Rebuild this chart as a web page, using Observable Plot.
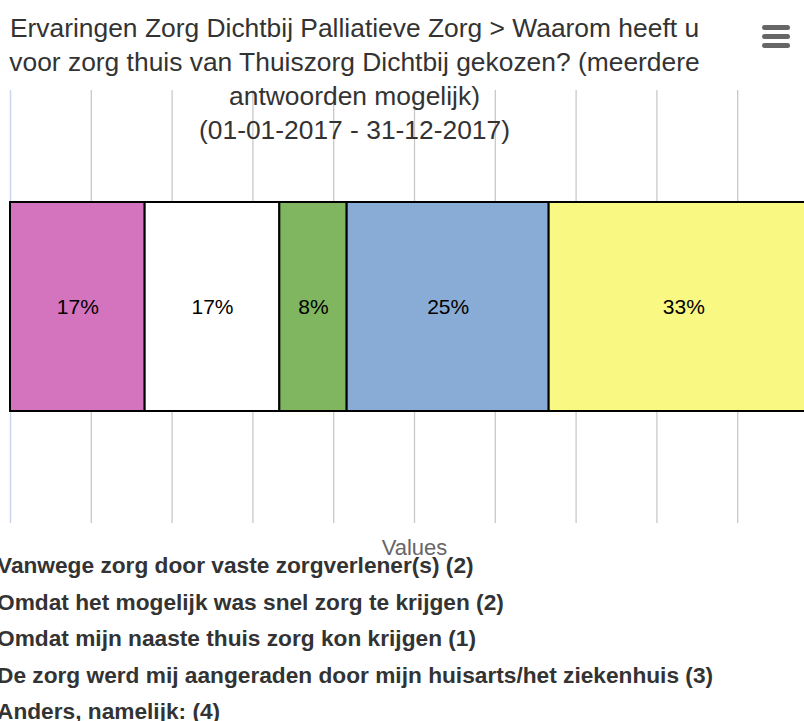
<!DOCTYPE html>
<html><head><meta charset="utf-8">
<script src="https://cdn.jsdelivr.net/npm/d3@7"></script>
<script src="https://cdn.jsdelivr.net/npm/@observablehq/plot@0.6"></script>
<style>
html,body{margin:0;padding:0;overflow:hidden;background:#fff;}
#wrap{position:relative;width:804px;height:721px;overflow:hidden;font-family:"Liberation Sans",Arial,sans-serif;}
#chart{position:absolute;left:0;top:0;}
#title{position:absolute;left:0;top:11px;width:709px;text-align:center;font-size:26.4px;line-height:34px;color:#333;}
#menu{position:absolute;left:762px;top:25px;width:28px;}
#menu div{height:5px;border-radius:3px;background:#666;margin-bottom:4px;}
#legend{position:absolute;left:-3px;top:552px;font-weight:bold;font-size:22.7px;color:#333;}
#legend div{height:36.5px;line-height:26px;white-space:nowrap;}
</style>
</head><body>
<div id="wrap">
  <div id="chart"></div>
  <div id="title"></div>
  <div id="menu"><div></div><div></div><div></div></div>
  <div id="legend"></div>
</div>
<script>
const titleLines = [
  "Ervaringen Zorg Dichtbij Palliatieve Zorg > Waarom heeft u",
  "voor zorg thuis van Thuiszorg Dichtbij gekozen? (meerdere",
  "antwoorden mogelijk)",
  "(01-01-2017 - 31-12-2017)"
];
const reasons = [
  "Vanwege zorg door vaste zorgverlener(s)",
  "Omdat het mogelijk was snel zorg te krijgen",
  "Omdat mijn naaste thuis zorg kon krijgen",
  "De zorg werd mij aangeraden door mijn huisarts/het ziekenhuis",
  "Anders, namelijk:"
];
const counts = [2, 2, 1, 3, 4];
const pctLabels = ["17%", "17%", "8%", "25%", "33%"];
const colors = ["#d473be", "#ffffff", "#7fb65f", "#89acd6", "#f8f882"];
const xTicks = [0, 10, 20, 30, 40, 50, 60, 70, 80, 90, 100];
const axisTitle = "Values";

const total = d3.sum(counts);
const data = reasons.map((r, i) => ({reason: r, pct: counts[i] / total * 100, label: pctLabels[i]}));

document.getElementById("title").innerHTML = titleLines.map(t => t.replace(/&/g,"&amp;").replace(/</g,"&lt;").replace(/>/g,"&gt;")).join("<br>");
const leg = document.getElementById("legend");
reasons.forEach((r, i) => {
  const d = document.createElement("div");
  d.textContent = `${r} (${counts[i]})`;
  leg.appendChild(d);
});

const chart = Plot.plot({
  width: 804,
  height: 721,
  marginLeft: 10,
  marginRight: -14,
  marginTop: 90,
  marginBottom: 198,
  style: {fontFamily: "'Liberation Sans', Arial, sans-serif", overflow: "hidden"},
  x: {domain: [0, 100], axis: null},
  y: {axis: null},
  color: {domain: reasons, range: colors},
  marks: [
    Plot.ruleX(xTicks.slice(1), {stroke: "#c8c8c8", strokeWidth: 1.3}),
    Plot.ruleX([0], {stroke: "#ccd6eb", strokeWidth: 1.5}),
    Plot.barX(data, Plot.stackX({x: "pct", fill: "reason", stroke: "#000", strokeWidth: 2, insetTop: 112, insetBottom: 112})),
    Plot.text(data, Plot.stackX({x: "pct", text: "label", fill: "#000", fontSize: 21})),
    Plot.text([axisTitle], {x: [50], text: d => d, frameAnchor: "bottom", dy: 31, fill: "#666", fontSize: 22})
  ]
});
document.getElementById("chart").appendChild(chart);
</script>
</body></html>
